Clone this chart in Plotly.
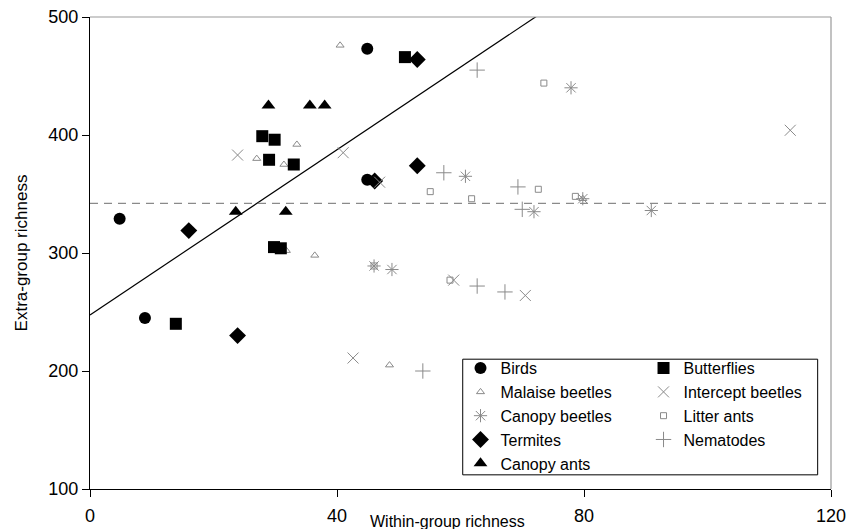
import plotly.graph_objects as go

# ---- data ----
birds_x = [4.8, 8.9, 44.9, 44.9]
birds_y = [329, 245, 473, 362]

butterflies_x = [51.0, 27.9, 29.9, 29.0, 33.0, 29.8, 30.9, 13.9]
butterflies_y = [466, 399, 396, 379, 375, 305, 304, 240]

malaise_x = [40.5, 33.5, 27.0, 31.4, 31.8, 36.4, 48.5, 79.8]
malaise_y = [476, 392, 380, 375, 302, 298, 205, 346]

intercept_x = [23.9, 41.0, 46.9, 113.4, 42.6, 70.5, 58.9]
intercept_y = [383, 385, 360, 404, 211, 264, 277]

canopy_beetles_x = [77.9, 60.8, 71.9, 79.8, 90.9, 46.0, 48.9]
canopy_beetles_y = [440, 365, 335, 346, 336, 289, 286]

litter_ants_x = [73.5, 55.1, 61.8, 72.6, 78.6, 46.0, 58.3]
litter_ants_y = [444, 352, 346, 354, 348, 289, 277]

termites_x = [53.0, 46.1, 53.0, 16.0, 23.9]
termites_y = [464, 361, 374, 319, 230]

nematodes_x = [62.7, 57.3, 69.3, 70.0, 62.7, 67.2, 53.9]
nematodes_y = [455, 368, 356, 337, 272, 267, 200]

canopy_ants_x = [28.9, 35.6, 38.0, 23.6, 31.7]
canopy_ants_y = [425, 425, 425, 335, 335]

fit_intercept = 247.5
fit_slope = 3.5
mean_extra = 342

x_ticks = [0, 40, 80, 120]
y_ticks = [100, 200, 300, 400, 500]

FONT = "Liberation Sans, Arial, sans-serif"
GREY = "#8a8a8a"

fig = go.Figure()

# regression line (clipped by the axis range)
fig.add_trace(go.Scatter(x=[0, 120], y=[fit_intercept, fit_intercept + fit_slope * 120],
                         mode="lines", line=dict(color="black", width=1.2),
                         showlegend=False, hoverinfo="skip"))
# mean line
fig.add_trace(go.Scatter(x=[0, 120], y=[mean_extra, mean_extra], mode="lines",
                         line=dict(color=GREY, width=1.2, dash="8px,6px"),
                         showlegend=False, hoverinfo="skip"))


def add(name, xs, ys, symbol, size, color, legend, filled=True, lw=1):
    if filled:
        marker = dict(symbol=symbol, size=size, color=color, line=dict(width=0))
    else:
        marker = dict(symbol=symbol, size=size, color=color, line=dict(color=color, width=lw))
    fig.add_trace(go.Scatter(x=xs, y=ys, mode="markers", name=name, marker=marker,
                             legend=legend))


add("Birds", birds_x, birds_y, "circle", 12, "black", "legend")
add("Malaise beetles", malaise_x, malaise_y, "triangle-up-open", 7, GREY, "legend", False)
add("Canopy beetles", canopy_beetles_x, canopy_beetles_y, "asterisk-open", 11, GREY, "legend", False)
add("Termites", termites_x, termites_y, "diamond", 13, "black", "legend")
add("Canopy ants", canopy_ants_x, canopy_ants_y, "triangle-up", 12, "black", "legend")

add("Butterflies", butterflies_x, butterflies_y, "square", 12, "black", "legend2")
add("Intercept beetles", intercept_x, intercept_y, "x-thin-open", 11, GREY, "legend2", False)
add("Litter ants", litter_ants_x, litter_ants_y, "square-open", 6, GREY, "legend2", False)
add("Nematodes", nematodes_x, nematodes_y, "cross-thin-open", 11, GREY, "legend2", False)

axis_common = dict(showgrid=False, zeroline=False, showline=True, linecolor="black",
                   linewidth=1, ticks="outside", ticklen=7, tickcolor="black",
                   automargin=False,
                   tickfont=dict(family=FONT, size=18, color="black"))

fig.update_layout(
    width=848, height=529,
    margin=dict(l=90, r=17, t=17, b=40, autoexpand=False),
    paper_bgcolor="white", plot_bgcolor="white",
    font=dict(family=FONT, color="black"),
    xaxis=dict(range=[0, 120], tickvals=x_ticks, ticklabelstandoff=3, **axis_common),
    yaxis=dict(range=[100, 500], tickvals=y_ticks,
               title=dict(text="Extra-group richness", font=dict(family=FONT, size=17), standoff=16),
               **axis_common),
    legend=dict(x=0.500, y=0.292, xanchor="left", yanchor="top", bgcolor="rgba(0,0,0,0)",
                font=dict(family=FONT, size=16), tracegroupgap=0, itemwidth=30),
    legend2=dict(x=0.747, y=0.292, xanchor="left", yanchor="top", bgcolor="rgba(0,0,0,0)",
                 font=dict(family=FONT, size=16), tracegroupgap=0, itemwidth=30),
    shapes=[
        dict(type="line", xref="paper", yref="paper", x0=0, x1=1, y0=1, y1=1,
             line=dict(color="#999999", width=1.2)),
        dict(type="line", xref="paper", yref="paper", x0=1, x1=1, y0=0, y1=1,
             line=dict(color="#999999", width=1.2)),
        dict(type="rect", xref="paper", yref="paper", x0=0.503, x1=0.982, y0=0.030, y1=0.275,
             line=dict(color="black", width=1), fillcolor="white", layer="below"),
    ],
    annotations=[
        dict(text="Within-group richness", xref="paper", yref="paper", x=0.483, y=-0.068,
             xanchor="center", yanchor="middle", showarrow=False,
             font=dict(family=FONT, size=16, color="black")),
    ],
)

fig.write_html("out.html")
